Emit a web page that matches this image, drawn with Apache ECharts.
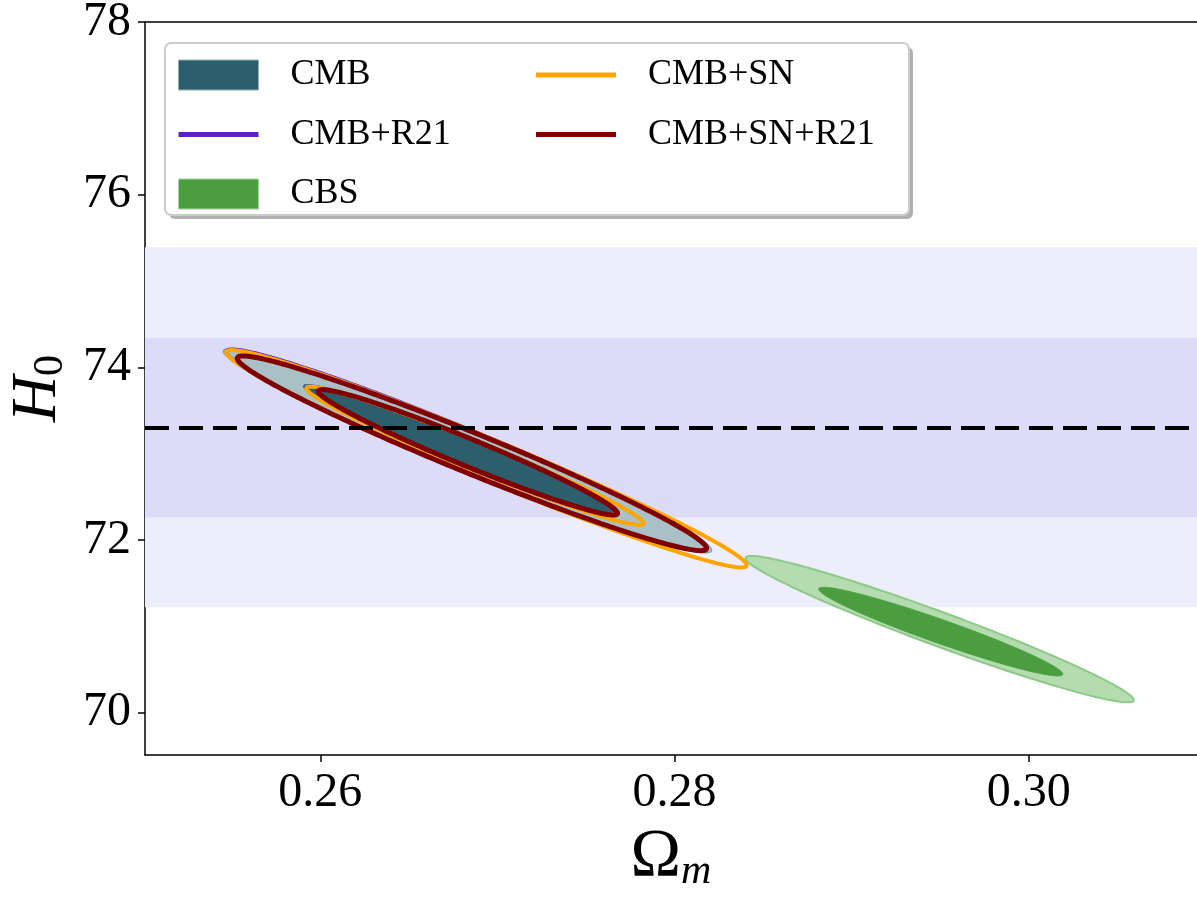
<!DOCTYPE html>
<html><head><meta charset="utf-8">
<script src="https://cdn.jsdelivr.net/npm/echarts@6/dist/echarts.min.js"></script>
<style>html,body{margin:0;padding:0;background:#fff}#c{width:1197px;height:910px}</style>
</head><body><div id="c"></div>
<script>
// ---- axes ----
const xTicks = [0.26, 0.28, 0.30];
const yTicks = [70, 72, 74, 76, 78];
const xRange = [0.2501, 0.3095];
const yRange = [69.51, 78];

// ---- R21 local H0 measurement (mean, 1 sigma band, 2 sigma band) ----
const r21Mean = 73.30;
const r21Band1 = [72.26, 74.34];
const r21Band2 = [71.22, 75.39];

// ---- contours: [Om left tip, H0 left tip, Om right tip, H0 right tip, vertical half-width in H0] ----
const cmb2σ     = [0.25452, 74.185, 0.28209, 71.882, 0.26];
const cmb1σ     = [0.25904, 73.780, 0.27650, 72.333, 0.175];
const cmbR21_2σ = [0.25469, 74.185, 0.28175, 71.905, 0.255];
const cmbR21_1σ = [0.25977, 73.734, 0.27667, 72.310, 0.165];
const cbs2σ     = [0.28401, 71.789, 0.30593, 70.146, 0.21];
const cbs1σ     = [0.28814, 71.431, 0.30192, 70.447, 0.145];
const cmbSN_2σ  = [0.25469, 74.174, 0.28407, 71.708, 0.255];
const cmbSN_1σ  = [0.25921, 73.757, 0.27825, 72.194, 0.175];
const cmbSNR_2σ = [0.25531, 74.104, 0.28181, 71.905, 0.25];
const cmbSNR_1σ = [0.25989, 73.722, 0.27678, 72.310, 0.17];

const seriesNames = ['CMB', 'CMB+R21', 'CBS', 'CMB+SN', 'CMB+SN+R21'];

const FONT = 'Liberation Serif';
const N = 360;

function ellipseSeries(name, contours, styles, color) {
  return {
    type: 'custom', name: name, coordinateSystem: 'cartesian2d',
    itemStyle: { color: color },
    encode: { x: [0, 2], y: [1, 3] },
    silent: true,
    data: contours,
    renderItem: function (params, api) {
      const x1 = api.value(0), y1 = api.value(1), x2 = api.value(2), y2 = api.value(3), h = api.value(4);
      const cx = (x1 + x2) / 2, cy = (y1 + y2) / 2, ax = (x2 - x1) / 2, ay = (y2 - y1) / 2;
      const pts = [];
      for (let i = 0; i < N; i++) {
        const t = 2 * Math.PI * i / N;
        pts.push(api.coord([cx + Math.cos(t) * ax, cy + Math.cos(t) * ay + Math.sin(t) * h]));
      }
      return { type: 'polygon', shape: { points: pts }, style: styles[params.dataIndex] };
    }
  };
}

const lineIcon = 'path://M0,0h0.01v0.01h-0.01zM0,12.5h80v5h-80zM79.99,29.99h0.01v0.01h-0.01z';

const chart = echarts.init(document.getElementById('c'), null, { renderer: 'canvas' });
chart.setOption({
  animation: false,
  backgroundColor: '#fff',
  grid: { left: 145, top: 22, right: 0, bottom: 155, containLabel: false, outerBoundsMode: 'none' },
  xAxis: [{
    type: 'value', min: xRange[0], max: xRange[1],
    axisLine: { show: true, onZero: false, lineStyle: { color: '#000', width: 1.5 } },
    axisTick: { show: true, customValues: xTicks, length: 7, lineStyle: { color: '#000', width: 1.5 } },
    axisLabel: { customValues: xTicks, formatter: v => v.toFixed(2), fontFamily: FONT, fontSize: 48, color: '#000', margin: 14 },
    splitLine: { show: false },
    name: '{a|Ω}{b|m}', nameLocation: 'middle', nameGap: 66,
    nameTextStyle: { rich: {
      a: { fontFamily: FONT, fontSize: 68, color: '#000' },
      b: { fontFamily: FONT, fontSize: 42, fontStyle: 'italic', color: '#000', padding: [30, 0, 0, 0] }
    } }
  }, {
    type: 'value', position: 'top', min: xRange[0], max: xRange[1],
    axisLine: { show: true, onZero: false, lineStyle: { color: '#000', width: 1.5 } },
    axisTick: { show: false }, axisLabel: { show: false }, splitLine: { show: false }
  }],
  yAxis: {
    type: 'value', min: yRange[0], max: yRange[1],
    axisLine: { show: true, onZero: false, lineStyle: { color: '#000', width: 1.5 } },
    axisTick: { show: true, customValues: yTicks, length: 7, lineStyle: { color: '#000', width: 1.5 } },
    axisLabel: { customValues: yTicks, fontFamily: FONT, fontSize: 48, color: '#000', margin: 14 },
    splitLine: { show: false },
    name: '{a|H}{b|0}', nameLocation: 'middle', nameRotate: 90, nameGap: 72,
    nameTextStyle: { rich: {
      a: { fontFamily: FONT, fontSize: 64, fontStyle: 'italic', color: '#000' },
      b: { fontFamily: FONT, fontSize: 42, color: '#000', padding: [26, 0, 0, 0] }
    } }
  },
  legend: [{
    left: 178, top: 57, padding: 0, orient: 'vertical', itemWidth: 80, itemHeight: 30, itemGap: 23.5,
    textStyle: { fontFamily: FONT, fontSize: 36, color: '#000', lineHeight: 30, padding: [0, 0, 0, 27] },
    selectedMode: false,
    data: [
      { name: 'CMB', icon: 'rect', itemStyle: { color: '#2c5f6b', borderColor: '#8fb0b8', borderWidth: 1 } },
      { name: 'CMB+R21', icon: lineIcon, itemStyle: { color: '#5b21c2', borderWidth: 0 } },
      { name: 'CBS', icon: 'rect', itemStyle: { color: '#4a9e3f', borderColor: '#a5d49f', borderWidth: 1 } }
    ]
  }, {
    left: 536, top: 57, padding: 0, orient: 'vertical', itemWidth: 80, itemHeight: 30, itemGap: 23.5,
    textStyle: { fontFamily: FONT, fontSize: 36, color: '#000', lineHeight: 30, padding: [0, 0, 0, 27] },
    selectedMode: false,
    data: [
      { name: 'CMB+SN', icon: lineIcon, itemStyle: { color: '#ffa500', borderWidth: 0 } },
      { name: 'CMB+SN+R21', icon: lineIcon, itemStyle: { color: '#800000', borderWidth: 0 } }
    ]
  }],
  graphic: [
    { type: 'rect', z: 0, silent: true, shape: { x: 169, y: 47, width: 744, height: 172, r: 6 }, style: { fill: '#b0b0b0' } },
    { type: 'rect', z: 1, silent: true, shape: { x: 165, y: 43, width: 744, height: 172, r: 6 }, style: { fill: '#fff', stroke: '#cccccc', lineWidth: 2 } }
  ],
  series: [
    {
      type: 'line', data: [], silent: true, name: 'R21band',
      markArea: { silent: true, data: [
        [{ yAxis: r21Band2[0], itemStyle: { color: '#ededfc' } }, { yAxis: r21Band2[1] }],
        [{ yAxis: r21Band1[0], itemStyle: { color: '#dcdcf8' } }, { yAxis: r21Band1[1] }]
      ] }
    },
    ellipseSeries('CMB', [cmb2σ, cmb1σ], [
      { fill: '#a9c0c7', stroke: '#88a7b1', lineWidth: 1.5 },
      { fill: '#2c5f6b', stroke: '#2c5f6b', lineWidth: 1 }
    ], '#2c5f6b'),
    ellipseSeries('CMB+R21', [cmbR21_2σ, cmbR21_1σ], [
      { fill: 'none', stroke: '#5b21c2', lineWidth: 3 },
      { fill: 'none', stroke: '#5b21c2', lineWidth: 3 }
    ], '#5b21c2'),
    ellipseSeries('CBS', [cbs2σ, cbs1σ], [
      { fill: '#b5dbb0', stroke: '#8dca88', lineWidth: 2 },
      { fill: '#4a9e3f', stroke: '#4a9e3f', lineWidth: 1 }
    ], '#4a9e3f'),
    ellipseSeries('CMB+SN', [cmbSN_2σ, cmbSN_1σ], [
      { fill: 'none', stroke: '#ffa500', lineWidth: 4 },
      { fill: 'none', stroke: '#ffa500', lineWidth: 4 }
    ], '#ffa500'),
    ellipseSeries('CMB+SN+R21', [cmbSNR_2σ, cmbSNR_1σ], [
      { fill: 'none', stroke: '#800000', lineWidth: 5 },
      { fill: 'none', stroke: '#800000', lineWidth: 5 }
    ], '#800000'),
    {
      type: 'line', data: [], silent: true, name: 'R21mean',
      markLine: { silent: true, symbol: 'none', label: { show: false },
        lineStyle: { color: '#000', width: 4, type: [24, 10] },
        data: [{ yAxis: r21Mean }] }
    }
  ]
});
</script>
</body></html>
